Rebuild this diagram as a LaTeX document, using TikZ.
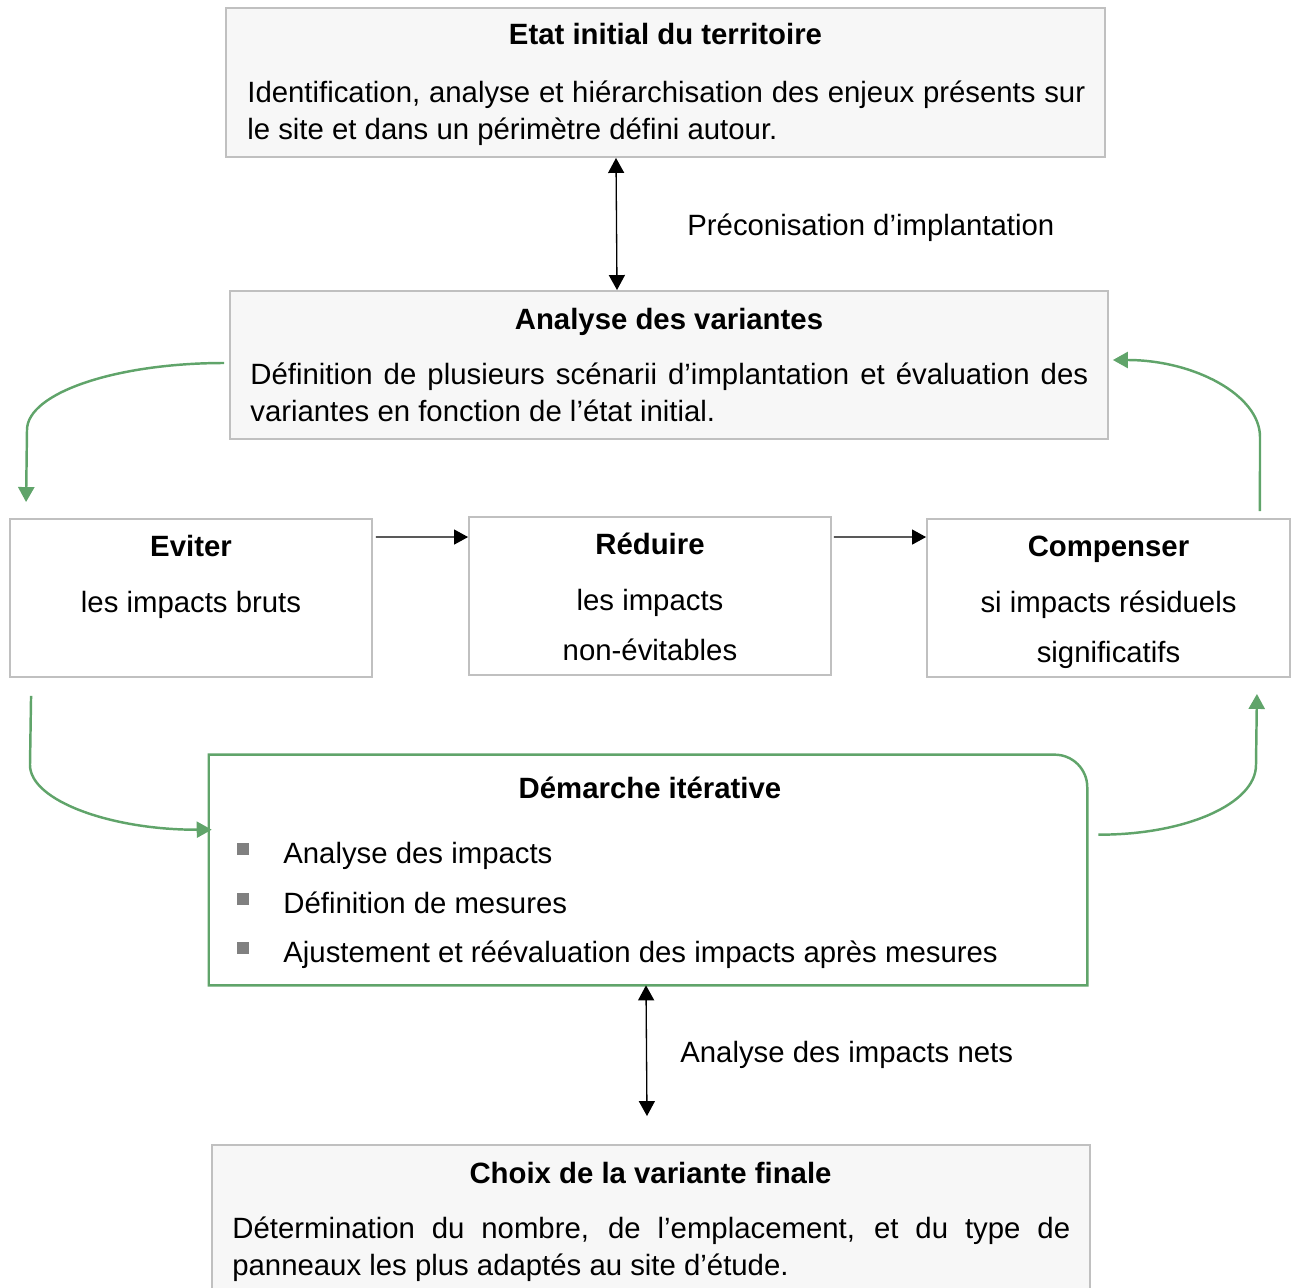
\documentclass[tikz,border=0pt]{standalone}
\usepackage{fontspec}
\setmainfont{Liberation Sans}
\usetikzlibrary{arrows.meta}
\hyphenpenalty=10000
\exhyphenpenalty=10000

\definecolor{boxgray}{RGB}{247,247,247}
\definecolor{linegray}{RGB}{192,192,192}
\definecolor{loopgreen}{RGB}{96,164,106}
\definecolor{bulletgray}{RGB}{128,128,128}

\tikzset{
  graybox/.style={draw=linegray, line width=1.1pt, fill=boxgray, inner sep=0pt},
  whitebox/.style={draw=linegray, line width=1.1pt, fill=white, inner sep=0pt},
  title/.style={font=\fontsize{16.7}{21.6}\selectfont\bfseries, anchor=base, inner sep=0pt},
  line/.style={font=\fontsize{16.7}{21.6}\selectfont, anchor=base, inner sep=0pt},
  body/.style={font=\fontsize{16.7}{21.6}\selectfont, anchor=base west, inner sep=0pt},
  para/.style={body, text width=16.76cm, align=justify},
  bullet/.style={fill=bulletgray, minimum size=0.25cm, inner sep=0pt},
  dblarrow/.style={{Triangle[length=0.3cm,width=0.32cm]}-{Triangle[length=0.3cm,width=0.32cm]}, line width=0.75pt},
  onearrow/.style={-{Triangle[length=0.28cm,width=0.3cm]}, line width=0.75pt},
  loopline/.style={-{Triangle[length=0.3cm,width=0.32cm]}, draw=loopgreen, line width=1.4pt}
}

\begin{document}
\begin{tikzpicture}[x=0.02cm, y=-0.02cm]
\useasboundingbox (0,0) rectangle (1296,1288);

% boxes
\node[graybox, minimum width=17.58cm, minimum height=2.98cm] (etat) at (665.5,82.5) {};
\node[graybox, minimum width=17.56cm, minimum height=2.96cm] (variantes) at (669,365) {};
\node[whitebox, minimum width=7.24cm, minimum height=3.16cm] (eviter) at (191,598) {};
\node[whitebox, minimum width=7.24cm, minimum height=3.16cm] (reduire) at (650,596) {};
\node[whitebox, minimum width=7.26cm, minimum height=3.16cm] (compenser) at (1108.5,598) {};
\node[minimum width=17.56cm, minimum height=4.6cm, inner sep=0pt] (demarche) at (648,870) {};
\node[graybox, minimum width=17.56cm, minimum height=3.1cm] (choix) at (651,1222.5) {};

\draw[draw=loopgreen, line width=1.4pt, fill=white] (demarche.south west) -- (demarche.north west)
  -- ([xshift=-0.65cm]demarche.north east) arc[start angle=90, end angle=0, radius=0.65cm]
  -- (demarche.south east) -- cycle;

% texts
\node[title] (etatT) at (665.5,45) {Etat initial du territoire};
\node[para] (etatD) at (247,102) {Identification, analyse et hiérarchisation des enjeux présents sur\linebreak le site et dans un périmètre défini autour.};
\node[body] (preco) at (687,235) {Préconisation d’implantation};

\node[title] (variantesT) at (669,329) {Analyse des variantes};
\node[para] (variantesD) at (250,384) {Définition de plusieurs scénarii d’implantation et évaluation des\linebreak variantes en fonction de l’état initial.};

\node[title] (eviterT) at (191,556) {Eviter};
\node[line] (eviterD) at (191,612) {les impacts bruts};

\node[title] (reduireT) at (650,554) {Réduire};
\node[line] (reduireD) at (650,610) {les impacts};
\node[line] (reduireE) at (650,660) {non-évitables};

\node[title] (compenserT) at (1108.5,556) {Compenser};
\node[line] (compenserD) at (1108.5,612) {si impacts résiduels};
\node[line] (compenserE) at (1108.5,662) {significatifs};

\node[title] (demarcheT) at (650,798) {Démarche itérative};
\node[bullet] (b1) at (243,849) {};
\node[bullet] (b2) at (243,899) {};
\node[bullet] (b3) at (243,948) {};
\node[body] (item1) at (283,863) {Analyse des impacts};
\node[body] (item2) at (283,913) {Définition de mesures};
\node[body] (item3) at (283,962) {Ajustement et réévaluation des impacts après mesures};

\node[body] (nets) at (680,1062) {Analyse des impacts nets};

\node[title] (choixT) at (650.5,1183) {Choix de la variante finale};
\node[para] (choixD) at (232,1238) {Détermination du nombre, de l’emplacement, et du type de\linebreak panneaux les plus adaptés au site d’étude.};

% black arrows
\draw[dblarrow] ([xshift=-0.99cm]etat.south) -- ([xshift=-1.04cm]variantes.north);
\draw[onearrow] ([xshift=0.06cm,yshift=-0.38cm]eviter.north east) -- ([yshift=-0.42cm]reduire.north west);
\draw[onearrow] ([xshift=0.04cm,yshift=-0.42cm]reduire.north east) -- ([yshift=-0.38cm]compenser.north west);
\draw[dblarrow] ([xshift=-0.04cm]demarche.south) -- ([xshift=-0.08cm,yshift=0.56cm]choix.north);

% green loop
\draw[loopline] ([xshift=-0.1cm,yshift=0.04cm]variantes.west) .. controls (116,363) and (27,393) .. (27,430)
  -- ([xshift=0.34cm,yshift=0.32cm]eviter.north west);
\draw[loopline] ([xshift=0.44cm,yshift=-0.36cm]eviter.south west) -- (30,765)
  .. controls (30,801) and (112,830) .. ([xshift=0.06cm,yshift=-1.5cm]demarche.north west);
\draw[loopline] ([xshift=0.22cm,yshift=-1.6cm]demarche.north east) .. controls (1185,835) and (1256,804) .. (1256,765)
  -- ([xshift=-0.68cm,yshift=-0.32cm]compenser.south east);
\draw[loopline] ([xshift=-0.62cm,yshift=0.14cm]compenser.north east) -- (1260,437)
  .. controls (1260,395) and (1194,360) .. ([xshift=0.08cm,yshift=0.1cm]variantes.east);
\end{tikzpicture}
\end{document}
